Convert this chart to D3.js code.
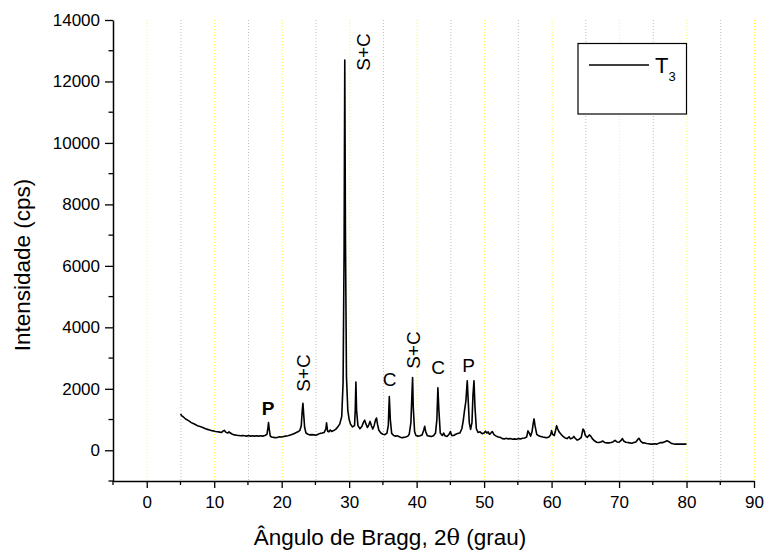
<!DOCTYPE html>
<html>
<head>
<meta charset="utf-8">
<script src="https://cdn.jsdelivr.net/npm/d3@7"></script>
<style>
  body { margin: 0; background: #fff; }
  text { font-family: Arial, "Liberation Sans", sans-serif; fill: #000; }
</style>
</head>
<body>
<div id="chart"></div>
<script>
// XRD pattern, sample T3: [2theta, intensity in cps]
const pattern = [
  [5.0,1180],[5.2,1120],[5.4,1090],[5.6,1050],[5.8,1010],[6.0,990],[6.3,950],[6.6,900],[6.9,870],
  [7.2,840],[7.5,800],[7.8,780],[8.1,760],[8.4,730],[8.7,700],[9.0,680],[9.3,660],[9.6,640],
  [9.9,630],[10.2,610],[10.5,600],[10.8,590],[11.1,580],[11.3,620],[11.5,650],[11.7,590],[12.0,560],
  [12.2,600],[12.4,560],[12.7,520],[13.0,500],[13.3,490],[13.6,480],[13.9,470],[14.2,480],[14.5,470],
  [14.8,460],[15.1,480],[15.4,460],[15.7,470],[16.0,460],[16.3,470],[16.6,460],[16.9,470],[17.2,460],
  [17.5,480],[17.8,510],[17.95,700],[18.05,900],[18.15,700],[18.3,470],[18.5,430],[18.8,420],[19.1,410],
  [19.4,420],[19.7,440],[20.0,430],[20.3,450],[20.6,460],[20.9,470],[21.2,490],[21.5,510],[21.8,540],
  [22.1,570],[22.4,600],[22.7,650],[22.9,800],[23.05,1300],[23.15,1530],[23.25,1200],[23.4,750],[23.6,560],
  [23.9,520],[24.2,500],[24.5,510],[24.8,500],[25.1,490],[25.4,520],[25.7,550],[26.0,560],[26.3,580],
  [26.55,700],[26.65,890],[26.8,620],[27.0,600],[27.2,660],[27.4,610],[27.7,640],[28.0,680],[28.3,760],
  [28.6,850],[28.9,1100],[29.1,2200],[29.25,6500],[29.35,12700],[29.45,7000],[29.6,2400],[29.8,1300],[30.0,1000],
  [30.2,850],[30.5,760],[30.8,800],[30.9,1300],[31.0,2220],[31.1,1300],[31.3,800],[31.6,700],[31.9,780],
  [32.1,900],[32.3,980],[32.5,850],[32.7,740],[32.9,820],[33.1,940],[33.3,800],[33.5,690],[33.7,800],
  [33.9,980],[34.05,1050],[34.2,850],[34.4,650],[34.7,560],[35.0,520],[35.3,510],[35.6,560],[35.8,800],
  [35.95,1750],[36.1,1000],[36.3,550],[36.6,480],[36.9,460],[37.2,470],[37.5,430],[37.8,410],[38.1,420],
  [38.4,430],[38.7,460],[38.9,520],[39.15,900],[39.3,1800],[39.4,2370],[39.5,1400],[39.7,600],[39.9,480],
  [40.2,460],[40.5,470],[40.8,500],[41.05,650],[41.2,780],[41.35,600],[41.6,470],[41.9,460],[42.2,450],
  [42.5,470],[42.8,560],[43.0,1000],[43.15,2030],[43.3,1300],[43.5,560],[43.8,480],[44.0,560],[44.2,470],
  [44.5,450],[44.8,520],[45.0,610],[45.2,480],[45.5,480],[45.8,520],[46.1,550],[46.4,560],[46.7,700],
  [46.9,950],[47.1,1300],[47.3,1600],[47.5,2260],[47.65,1600],[47.8,900],[48.0,680],[48.2,900],[48.35,1800],
  [48.5,2260],[48.65,1400],[48.85,700],[49.1,580],[49.4,600],[49.7,540],[50.0,560],[50.2,620],[50.4,560],
  [50.6,600],[50.8,520],[51.0,560],[51.2,610],[51.5,500],[51.8,460],[52.1,430],[52.4,420],[52.7,380],
  [53.0,370],[53.3,390],[53.6,370],[53.9,380],[54.2,360],[54.5,370],[54.8,360],[55.1,380],[55.4,370],
  [55.7,390],[56.0,400],[56.3,430],[56.5,630],[56.7,560],[56.9,460],[57.1,600],[57.3,900],[57.4,1020],
  [57.55,800],[57.8,520],[58.1,470],[58.4,450],[58.7,430],[59.0,420],[59.3,410],[59.6,430],[59.85,500],
  [60.0,640],[60.15,520],[60.4,480],[60.6,650],[60.75,800],[60.9,700],[61.1,600],[61.4,520],[61.7,450],
  [62.0,400],[62.3,380],[62.6,440],[62.8,370],[63.1,400],[63.3,450],[63.5,390],[63.8,330],[64.1,360],
  [64.4,420],[64.65,690],[64.8,650],[65.0,480],[65.3,420],[65.6,500],[65.8,460],[66.1,360],[66.4,300],
  [66.7,260],[67.0,250],[67.3,270],[67.6,300],[67.9,250],[68.2,240],[68.5,240],[68.8,250],[69.1,270],
  [69.4,320],[69.7,270],[70.0,260],[70.3,320],[70.5,380],[70.7,300],[71.0,260],[71.3,250],[71.6,240],
  [71.9,230],[72.2,250],[72.5,270],[72.8,360],[72.95,390],[73.2,300],[73.5,240],[73.8,240],[74.1,220],
  [74.4,210],[74.7,200],[75.0,200],[75.3,210],[75.6,200],[75.9,230],[76.2,250],[76.5,250],[76.8,280],
  [77.1,310],[77.4,280],[77.7,230],[78.0,210],[78.3,200],[78.6,200],[78.9,200],[79.2,200],[79.5,200],
  [79.8,200],[80.0,200]
];

// phase labels (position of the label in data units)
const peakLabels = [
  { t: 18.0, i: 1150, text: "P", bold: true, rotate: false },
  { t: 23.2, i: 1900, text: "S+C", rotate: true },
  { t: 32.0, i: 12350, text: "S+C", rotate: true },
  { t: 36.0, i: 2100, text: "C", rotate: false },
  { t: 39.4, i: 2650, text: "S+C", rotate: true },
  { t: 43.2, i: 2480, text: "C", rotate: false },
  { t: 47.7, i: 2560, text: "P", rotate: false }
];

const xTicks = [0, 10, 20, 30, 40, 50, 60, 70, 80, 90];
const yTicks = [0, 2000, 4000, 6000, 8000, 10000, 12000, 14000];
const seriesName = "T";
const seriesSub = "3";

const W = 765, H = 554;
const svg = d3.select("#chart").append("svg")
    .attr("width", W)
    .attr("height", H);

const x = d3.scaleLinear().domain([-5, 90]).range([113, 754]);
const y = d3.scaleLinear().domain([-1000, 14000]).range([481, 20]);

// dotted vertical grid, yellow on tens, grey on fives
const gridVals = d3.range(0, 91, 5);
svg.append("g")
  .selectAll("line")
  .data(gridVals)
  .join("line")
    .attr("x1", d => x(d) + 0.5)
    .attr("x2", d => x(d) + 0.5)
    .attr("y1", y(14000))
    .attr("y2", y(-1000))
    .attr("stroke", d => d % 10 === 0 ? "#ffff33" : "#bdbdbd")
    .attr("stroke-width", 1)
    .attr("stroke-dasharray", "1,2");

// minor ticks
const xMinor = d3.range(-5, 91, 5).filter(d => d % 10 !== 0);
const yMinor = d3.range(-1000, 14001, 1000).filter(d => d % 2000 !== 0);

const xAxis = svg.append("g")
    .attr("transform", `translate(0,${y(-1000)})`)
    .call(d3.axisBottom(x).tickValues(xTicks).tickSize(7).tickPadding(8).tickSizeOuter(0));
xAxis.append("g").selectAll("line")
  .data(xMinor)
  .join("line")
    .attr("x1", d => x(d)).attr("x2", d => x(d))
    .attr("y1", 0).attr("y2", 4)
    .attr("stroke", "#000").attr("stroke-width", 1.3);

const yAxis = svg.append("g")
    .attr("transform", `translate(${x(-5)},0)`)
    .call(d3.axisLeft(y).tickValues(yTicks).tickFormat(d3.format("d"))
      .tickSize(8).tickPadding(5).tickSizeOuter(0));
yAxis.append("g").selectAll("line")
  .data(yMinor)
  .join("line")
    .attr("x1", 0).attr("x2", -4.5)
    .attr("y1", d => y(d)).attr("y2", d => y(d))
    .attr("stroke", "#000").attr("stroke-width", 1.3);

[xAxis, yAxis].forEach(a => {
  a.select(".domain").attr("stroke-width", 1.5);
  a.selectAll(".tick line").attr("stroke-width", 1.3);
  a.selectAll(".tick text")
    .style("font-family", "Arial, 'Liberation Sans', sans-serif")
    .style("font-size", "17px")
    .attr("fill", "#000");
});

// pattern line
const line = d3.line()
    .x(d => x(d[0]))
    .y(d => y(d[1]));

svg.append("path")
    .datum(pattern)
    .attr("fill", "none")
    .attr("stroke", "#000")
    .attr("stroke-width", 1.6)
    .attr("stroke-linejoin", "round")
    .attr("d", line);

// peak labels
peakLabels.forEach(p => {
  const t = svg.append("text")
      .text(p.text)
      .style("font-size", "19px")
      .style("font-weight", p.bold ? "bold" : "normal");
  if (p.rotate) {
    t.attr("text-anchor", "start")
     .attr("transform", `translate(${x(p.t) + 7},${y(p.i)}) rotate(-90)`);
  } else {
    t.attr("text-anchor", "middle")
     .attr("x", x(p.t))
     .attr("y", y(p.i));
  }
});

// axis titles
svg.append("text")
    .attr("text-anchor", "middle")
    .attr("x", 390)
    .attr("y", 545)
    .style("font-size", "22.5px")
    .html("Ângulo de Bragg, 2<tspan style=\"font-family:'DejaVu Serif', serif\">θ</tspan> (grau)");

svg.append("text")
    .attr("text-anchor", "middle")
    .attr("transform", "translate(30,265) rotate(-90)")
    .style("font-size", "22.5px")
    .text("Intensidade (cps)");

// legend
const lg = svg.append("g");
lg.append("rect")
    .attr("x", 578).attr("y", 43.5)
    .attr("width", 108.5).attr("height", 70.5)
    .attr("fill", "#fff")
    .attr("stroke", "#000")
    .attr("stroke-width", 1.2);
lg.append("line")
    .attr("x1", 589).attr("x2", 649)
    .attr("y1", 65).attr("y2", 65)
    .attr("stroke", "#000").attr("stroke-width", 1.4);
const lt = lg.append("text")
    .attr("x", 655).attr("y", 73)
    .style("font-size", "22px")
    .text(seriesName);
lt.append("tspan")
    .attr("dy", 8)
    .style("font-size", "13px")
    .text(seriesSub);
</script>
</body>
</html>
